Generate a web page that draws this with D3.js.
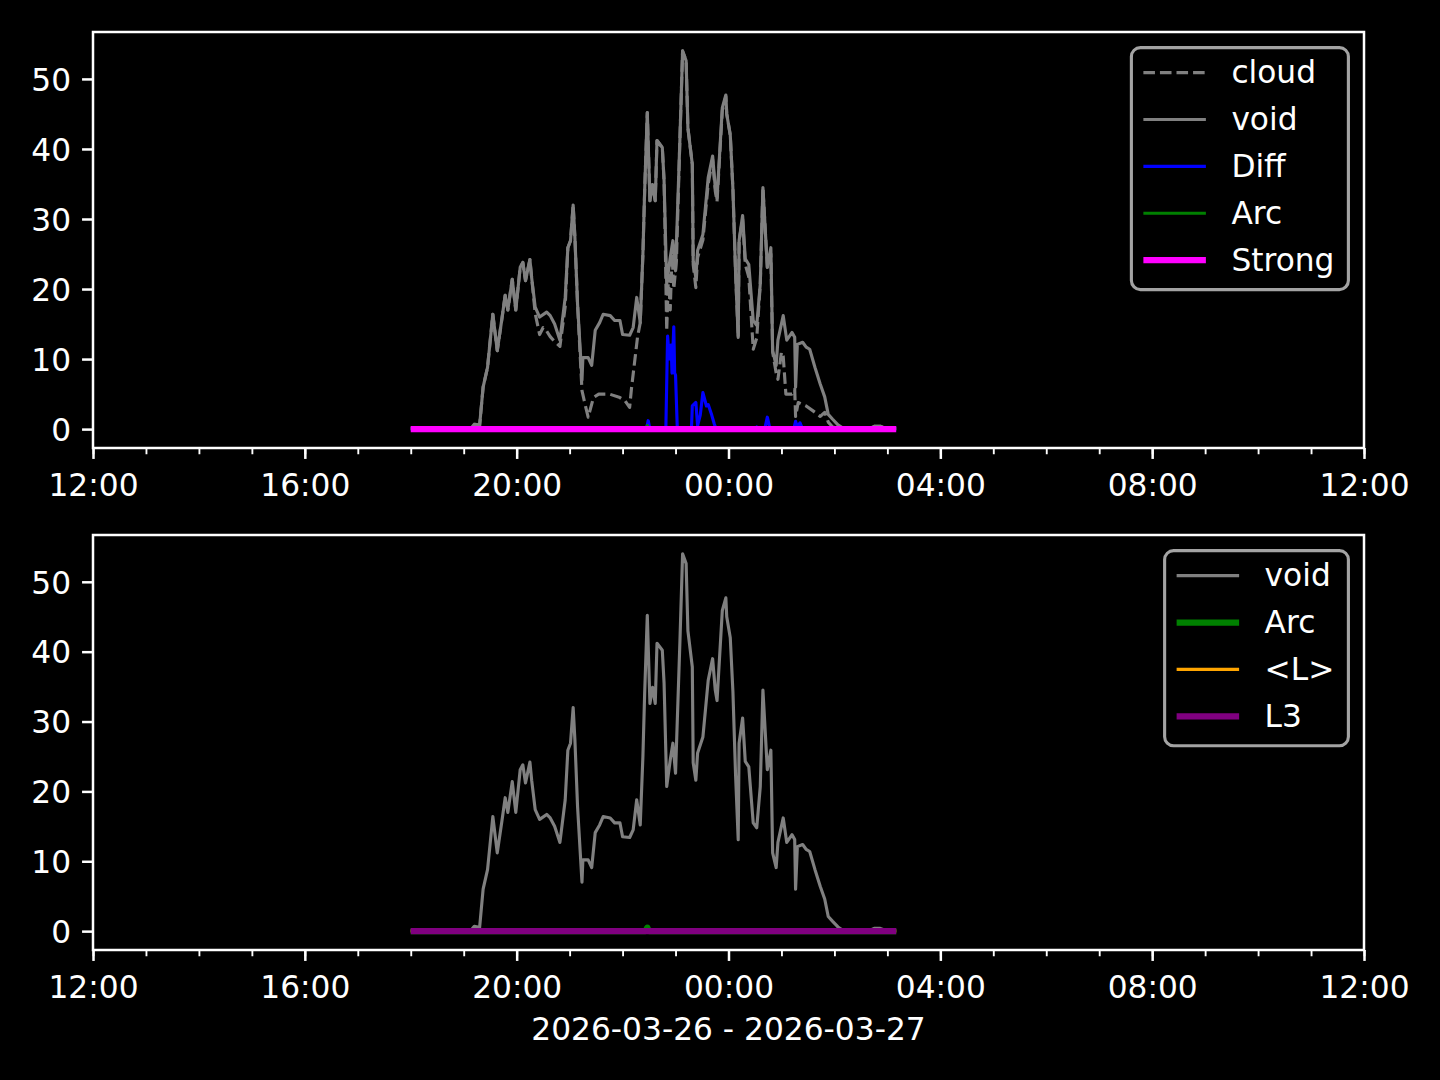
<!DOCTYPE html>
<html><head><meta charset="utf-8">
<script src="https://cdn.jsdelivr.net/npm/d3@7"></script>
<style>body{margin:0;background:#000}svg{display:block}</style>
</head><body><svg id="c" width="1440" height="1080"></svg>
<script>
// ---------- data (clock time, value); times before 12:00 belong to the next day ----------
const voidSeries = [["18:00",0.1],["19:08",0.1],["19:12",0.7],["19:16",0.6],["19:18",0.5],["19:22",6],["19:27",8.8],["19:33",16.4],["19:38",11.2],["19:43",15.5],["19:47",19.1],["19:50",17],["19:55",21.4],["19:59",17],["20:04",23.1],["20:07",23.8],["20:10",21.2],["20:15",24.2],["20:17",21.6],["20:21",17.4],["20:26",16],["20:34",16.7],["20:38",16.2],["20:43",15],["20:49",12.7],["20:55",18.8],["20:58",25.9],["21:01",26.9],["21:04",32],["21:06",27.3],["21:09",17.8],["21:14",7],["21:15",10.2],["21:21",10.2],["21:25",9.1],["21:29",14.1],["21:34",15.2],["21:38",16.4],["21:46",16.2],["21:51",15.5],["21:57",15.5],["22:00",13.5],["22:08",13.4],["22:12",14.5],["22:16",18.8],["22:20",15.2],["22:23",24.9],["22:25",34],["22:28",45.2],["22:31",32.6],["22:34",34.9],["22:37",32.6],["22:39",41.2],["22:45",40.2],["22:47",35.5],["22:50",20.7],["22:54",24.5],["22:57",26.9],["23:00",22.6],["23:05",41.6],["23:08",54],["23:12",52.6],["23:14",43],["23:19",37.8],["23:20",24.1],["23:23",21.6],["23:25",25.5],["23:31",27.8],["23:37",35.9],["23:42",39],["23:45",34.5],["23:47",33],["23:53",45.9],["23:57",47.7],["23:58",45],["00:02",42],["00:05",34.3],["00:08",22.4],["00:11",13.1],["00:12",26.9],["00:16",30.5],["00:19",24.3],["00:23",23.5],["00:28",15.5],["00:32",14.8],["00:36",20.7],["00:39",34.5],["00:44",23.1],["00:48",25.9],["00:50",11.2],["00:54",9.1],["00:56",12.7],["01:02",16.2],["01:06",12.7],["01:12",13.8],["01:15",13.1],["01:16",6],["01:18",12.1],["01:24",12.4],["01:28",11.7],["01:32",11.4],["01:38",8.8],["01:44",6.4],["01:49",4.6],["01:53",2.1],["01:58",1.4],["02:04",0.6],["02:10",0.1],["02:40",0.1],["02:45",0.4],["02:52",0.4],["02:58",0.1],["03:10",0.1]];

const cloudSeries = [["18:00",0.1],["19:08",0.1],["19:12",0.7],["19:16",0.6],["19:18",0.5],["19:22",6],["19:27",8.8],["19:33",16.4],["19:38",11.2],["19:43",15.5],["19:47",19.1],["19:50",17],["19:55",21.4],["19:59",17],["20:04",23.1],["20:07",23.8],["20:10",21.2],["20:15",24.2],["20:17",21.6],["20:21",16.5],["20:26",13.5],["20:30",14.5],["20:34",14],["20:38",13.2],["20:43",12.5],["20:49",11.8],["20:55",17.5],["20:58",25.9],["21:01",26.9],["21:04",32],["21:06",27.3],["21:09",17.8],["21:14",5.5],["21:17",3.8],["21:21",1.7],["21:27",4.5],["21:33",5],["21:45",5],["21:57",4.5],["22:03",4],["22:08",3.1],["22:10",5.7],["22:14",10],["22:17",13.2],["22:20",15.2],["22:23",24.9],["22:25",34],["22:28",45.2],["22:31",32.6],["22:34",34.9],["22:37",32.6],["22:39",41.2],["22:45",40.2],["22:47",35.5],["22:48",29],["22:50",14],["22:52",22],["22:54",17],["22:56",25],["22:58",20],["23:01",24],["23:05",41.6],["23:08",54],["23:12",52.6],["23:14",43],["23:19",37.8],["23:20",23.5],["23:23",20.2],["23:25",24.5],["23:31",27],["23:37",35],["23:42",38.5],["23:45",34],["23:47",32.5],["23:53",45.5],["23:57",47.5],["23:58",45],["00:02",42],["00:05",34.3],["00:08",22.4],["00:11",13.1],["00:12",26.9],["00:16",30],["00:19",23.5],["00:23",21.7],["00:28",11.4],["00:32",13],["00:36",20.7],["00:39",34.5],["00:44",23.1],["00:48",25],["00:50",11],["00:54",8],["00:56",7.1],["01:00",11],["01:02",10.4],["01:05",5],["01:12",5],["01:15",5.7],["01:16",1.8],["01:19",3.8],["01:28",3.3],["01:38",2.4],["01:44",1.8],["01:49",2.4],["01:53",1],["01:58",0.3],["02:04",0.1],["02:40",0.1],["02:45",0.4],["02:52",0.4],["02:58",0.1],["03:10",0.1]];

const diffSeries = [["18:00",0],["22:27",0],["22:29",1.2],["22:31",0],["22:49",0],["22:51",13.3],["22:53",10],["22:55",12],["22:56",8],["22:58",14.6],["22:59",8],["23:00",7.7],["23:02",0],["23:18",0],["23:19",3.3],["23:23",3.8],["23:25",0.5],["23:28",2],["23:31",5.2],["23:35",3.3],["23:37",3.5],["23:41",2],["23:44",0.7],["23:46",0],["00:30",0],["00:32",0.3],["00:34",0],["00:41",0],["00:44",1.7],["00:47",0],["01:14",0],["01:16",1.1],["01:18",0.3],["01:21",0.9],["01:24",0],["03:10",0]];
const arcSeries = [["18:00",0],["22:26",0],["22:28",0.5],["22:30",0],["03:10",0]];
const strongSeries = [["18:00",0],["03:10",0]];
const meanLSeries = [["18:00",0],["03:10",0]];
const l3Series = [["18:00",0],["03:10",0]];

const xTickLabels = ["12:00","16:00","20:00","00:00","04:00","08:00","12:00"];
const yTicks = [0,10,20,30,40,50];
const xLabelText = "2026-03-26 - 2026-03-27";
const topLegend = ["cloud","void","Diff","Arc","Strong"];
const bottomLegend = ["void","Arc","<L>","L3"];

// ---------- helpers ----------
const START = new Date(2026,2,26,12,0);
const END = new Date(2026,2,27,12,0);
function parseClock(s){
  const [h,m] = s.split(":").map(Number);
  return h < 12 ? new Date(2026,2,27,h,m) : new Date(2026,2,26,h,m);
}
const toPts = arr => arr.map(d => ({t: parseClock(d[0]), v: d[1]}));

const PT = 225/72;            // px per point (dpi 225)
const FS = 10*PT;             // 10pt font
const FONT = "DejaVu Sans, sans-serif";
const svg = d3.select("#c");
svg.append("rect").attr("width",1440).attr("height",1080).attr("fill","#000");

const styles = {
  cloud: {color:"#808080", w:1*PT, dash:[3.7*PT,1.6*PT]},
  void: {color:"#808080", w:1*PT},
  Diff: {color:"#0000ff", w:1*PT},
  ArcThin: {color:"#008000", w:1*PT},
  ArcThick: {color:"#008000", w:2*PT},
  Strong: {color:"#ff00ff", w:2*PT},
  "<L>": {color:"#ffa500", w:1*PT},
  L3: {color:"#800080", w:2*PT}
};

function panel(top, bottom, series, legendItems){
  const left = 93, right = 1364;
  const x = d3.scaleTime().domain([START, END]).range([left, right]);
  const all = series.flatMap(s => s.data.map(d => d.v));
  const lo = d3.min(all), hi = d3.max(all), pad = (hi-lo)*0.05;
  const y = d3.scaleLinear().domain([lo-pad, hi+pad]).range([bottom, top]);
  const g = svg.append("g");

  const line = d3.line().x(d => x(d.t)).y(d => y(d.v));
  series.forEach(s => {
    const st = styles[s.style];
    const p = g.append("path").datum(s.data).attr("d", line)
      .attr("fill","none").attr("stroke", st.color).attr("stroke-width", st.w)
      .attr("stroke-linejoin","round").attr("stroke-linecap", "butt");
    if (st.dash) p.attr("stroke-dasharray", st.dash.join(","));
  });

  // spines
  g.append("rect").attr("x",left).attr("y",top).attr("width",right-left).attr("height",bottom-top)
    .attr("fill","none").attr("stroke","#fff").attr("stroke-width",0.8*PT);

  // x axis
  const majors = d3.timeHour.every(4).range(START, d3.timeMinute.offset(END,1));
  const minors = d3.timeHour.every(1).range(START, d3.timeMinute.offset(END,1));
  const xAxisMinor = d3.axisBottom(x).tickValues(minors).tickSize(2*PT).tickFormat("");
  const xAxisMajor = d3.axisBottom(x).tickValues(majors).tickSize(3.5*PT).tickPadding(3.5*PT)
    .tickFormat((d,i) => xTickLabels[i]);
  const gm = g.append("g").attr("transform",`translate(0,${bottom})`).call(xAxisMinor);
  gm.select(".domain").remove();
  gm.selectAll("line").attr("stroke","#fff").attr("stroke-width",0.6*PT);
  const gx = g.append("g").attr("transform",`translate(0,${bottom})`).call(xAxisMajor);
  gx.select(".domain").remove();
  gx.selectAll("line").attr("stroke","#fff").attr("stroke-width",0.8*PT);
  gx.selectAll("text").attr("fill","#fff").attr("font-family",FONT).attr("font-size",FS).attr("dy","0.84em");

  // y axis
  const yAxis = d3.axisLeft(y).tickValues(yTicks).tickSize(3.5*PT).tickPadding(3.5*PT).tickFormat(d3.format("d"));
  const gy = g.append("g").attr("transform",`translate(${left},0)`).call(yAxis);
  gy.select(".domain").remove();
  gy.selectAll("line").attr("stroke","#fff").attr("stroke-width",0.8*PT);
  gy.selectAll("text").attr("fill","#fff").attr("font-family",FONT).attr("font-size",FS).attr("dy","0.36em");

  // legend
  const lg = g.append("g");
  const rowH = 46.9;
  const texts = legendItems.map((it,i) => lg.append("text").text(it.label)
    .attr("font-family",FONT).attr("font-size",FS).attr("fill","#fff"));
  const tw = d3.max(texts, t => t.node().getComputedTextLength());
  const boxW = 100 + tw + 14;
  const boxH = legendItems.length*rowH + 7.5;
  const bx = right - 15.6 - boxW, by = top + 15.6;
  lg.insert("rect",":first-child").attr("x",bx).attr("y",by).attr("width",boxW).attr("height",boxH)
    .attr("rx",9).attr("ry",9).attr("fill","#000").attr("fill-opacity",0.8)
    .attr("stroke","#cccccc").attr("stroke-opacity",0.8).attr("stroke-width",1*PT);
  legendItems.forEach((it,i) => {
    const cy = by + 25 + i*rowH;
    const st = styles[it.style];
    const l = lg.append("line").attr("x1",bx+12).attr("x2",bx+12+62.5).attr("y1",cy).attr("y2",cy)
      .attr("stroke",st.color).attr("stroke-width",st.w);
    if (st.dash) l.attr("stroke-dasharray",st.dash.join(","));
    texts[i].attr("x",bx+100).attr("y",cy).attr("dy","0.33em");
  });
  return {x,y};
}

const V = toPts(voidSeries), C = toPts(cloudSeries), D = toPts(diffSeries),
      A = toPts(arcSeries), S = toPts(strongSeries), ML = toPts(meanLSeries), L3 = toPts(l3Series);

panel(32, 448, [
  {data:C, style:"cloud"},{data:V, style:"void"},{data:D, style:"Diff"},
  {data:A, style:"ArcThin"},{data:S, style:"Strong"}],
  [{label:topLegend[0],style:"cloud"},{label:topLegend[1],style:"void"},{label:topLegend[2],style:"Diff"},
   {label:topLegend[3],style:"ArcThin"},{label:topLegend[4],style:"Strong"}]);

panel(535, 950, [
  {data:V, style:"void"},{data:A, style:"ArcThick"},{data:ML, style:"<L>"},{data:L3, style:"L3"}],
  [{label:bottomLegend[0],style:"void"},{label:bottomLegend[1],style:"ArcThick"},
   {label:bottomLegend[2],style:"<L>"},{label:bottomLegend[3],style:"L3"}]);

svg.append("text").attr("x",(93+1364)/2).attr("y",1040).attr("text-anchor","middle")
  .attr("font-family",FONT).attr("font-size",FS).attr("fill","#fff").text(xLabelText);
</script></body></html>
